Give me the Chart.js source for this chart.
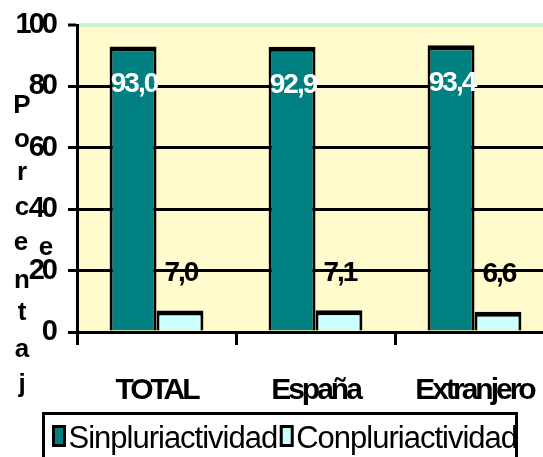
<!DOCTYPE html>
<html>
<head>
<meta charset="utf-8">
<script src="https://cdn.jsdelivr.net/npm/chart.js@4/dist/chart.umd.min.js"></script>
<style>
html,body{margin:0;padding:0;background:#fff;overflow:hidden;}
canvas{display:block;}
</style>
</head>
<body>
<canvas id="chart" width="554" height="457"></canvas>
<script>
const categories = ["TOTAL", "España", "Extranjero"];
const sinPluri = [93.0, 92.9, 93.4];
const conPluri = [7.0, 7.1, 6.6];
const seriesNames = ["Sinpluriactividad", "Conpluriactividad"];
const yTicks = [0, 20, 40, 60, 80, 100];
const axisTitle = "Porcentaje";

const FONT = '"Liberation Sans", Arial, sans-serif';

/* squeezed text + yellow plot area */
const plotBack = {
    id: "plotBack",
    beforeInit(c){ c.ctx.letterSpacing = "-3px"; },
    beforeUpdate(c){ c.ctx.letterSpacing = "-3px"; },
    beforeDraw(c){
        let a = c.chartArea, ctx = c.ctx;
        ctx.letterSpacing = "-3px";
        ctx.save();
        ctx.fillStyle = "#fffbcc";
        ctx.fillRect(a.left, a.top, a.right - a.left, a.bottom - a.top);
        ctx.restore();
    }
};

/* numbers on the bars */
const valueLabels = {
    id: "valueLabels",
    afterDatasetsDraw(c){
        let ctx = c.ctx;
        ctx.save();
        ctx.font = "bold 28px " + FONT;
        ctx.letterSpacing = "-2px";
        ctx.textAlign = "center";
        ctx.textBaseline = "middle";
        c.data.datasets.forEach((ds, i) => {
            c.getDatasetMeta(i).data.forEach((bar, j) => {
                let txt = ds.data[j].toFixed(1).replace(".", ",");
                ctx.fillStyle = i === 0 ? "#fff" : "#000";
                ctx.fillText(txt, bar.x + 1, i === 0 ? bar.y + 38 : bar.y - 37);
            });
        });
        ctx.restore();
    }
};

/* vertical axis title, one letter per line like the original */
const yTitle = {
    id: "yTitle",
    afterDraw(c){
        let ctx = c.ctx;
        let spots = [[22,113],[22,147],[22,180],[22,215],[21,250],[22,288],[22,320],[22,357],[22,392],[46,255]];
        ctx.save();
        ctx.font = "bold 26px " + FONT;
        ctx.letterSpacing = "0px";
        ctx.textAlign = "center";
        ctx.textBaseline = "alphabetic";
        ctx.fillStyle = "#000";
        axisTitle.split("").forEach((ch, i) => ctx.fillText(ch, spots[i][0], spots[i][1]));
        ctx.restore();
    }
};

/* legend in a black frame */
const boxLegend = {
    id: "boxLegend",
    afterDraw(c){
        let ctx = c.ctx;
        ctx.save();
        ctx.strokeStyle = "#000";
        ctx.lineWidth = 3;
        ctx.strokeRect(43.5, 413.5, 473, 70);
        ctx.font = "31px " + FONT;
        ctx.letterSpacing = "-1px";
        ctx.textBaseline = "alphabetic";
        let x = 53.5;
        c.data.datasets.forEach(ds => {
            ctx.fillStyle = ds.backgroundColor;
            ctx.fillRect(x, 426.5, 11, 19);
            ctx.strokeRect(x, 426.5, 11, 19);
            x += 15;
            ctx.fillStyle = "#000";
            ctx.fillText(ds.label, x, 448);
            x += ctx.measureText(ds.label).width + 4;
        });
        ctx.restore();
    }
};

new Chart(document.getElementById("chart"), {
    type: "bar",
    data: {
        labels: categories,
        datasets: [
            { label: seriesNames[0], data: sinPluri, backgroundColor: "#008080" },
            { label: seriesNames[1], data: conPluri, backgroundColor: "#ccffff" }
        ]
    },
    options: {
        responsive: false,
        animation: false,
        events: [],
        devicePixelRatio: 1,
        layout: { padding: { top: 25, left: 0, right: 0, bottom: 0 } },
        datasets: {
            bar: {
                categoryPercentage: 0.59,
                barPercentage: 1,
                borderColor: "#000",
                borderWidth: { top: 5, left: 3, right: 3, bottom: 0 },
                borderSkipped: "start"
            }
        },
        plugins: { legend: { display: false }, tooltip: { enabled: false } },
        scales: {
            x: {
                grid: {
                    drawOnChartArea: false, drawTicks: true, offset: true,
                    tickLength: 13, tickColor: "#000", tickWidth: 3, color: "#000", lineWidth: 3
                },
                border: { display: true, color: "#000", width: 3 },
                ticks: {
                    color: "#000", padding: 28, maxRotation: 0, autoSkip: false,
                    font: { family: FONT, size: 30, weight: "bold" }
                },
                afterFit(s){ s.height = 125; s.paddingLeft = 0; s.paddingRight = 0; }
            },
            y: {
                min: 0, max: 100,
                afterBuildTicks(s){ s.ticks = yTicks.map(v => ({ value: v })); },
                grid: {
                    color: g => g.tick && g.tick.value === 100 ? "#c8f6c8" : "#000",
                    lineWidth: g => g.tick && g.tick.value === 100 ? 4 : 3,
                    tickColor: "#000", tickWidth: 3, tickLength: 9, drawTicks: true
                },
                border: { display: true, color: "#000", width: 3 },
                ticks: {
                    color: "#000", padding: 13,
                    font: { family: FONT, size: 29, weight: "bold" }
                },
                afterFit(s){ s.width = 77; s.paddingTop = 0; s.paddingBottom = 0; }
            }
        }
    },
    plugins: [plotBack, valueLabels, yTitle, boxLegend]
});
</script>
</body>
</html>
